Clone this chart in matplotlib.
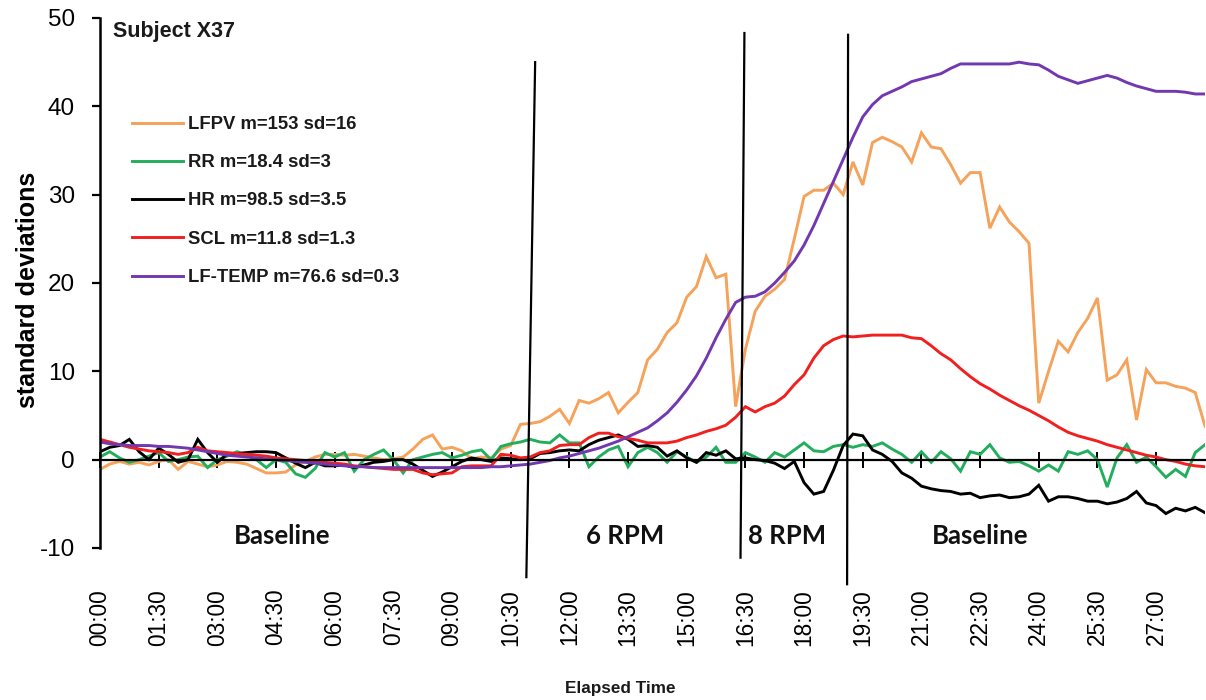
import numpy as np
import matplotlib
matplotlib.use("Agg")
import matplotlib.pyplot as plt

# ---------------- data ----------------
# elapsed time in 15 s steps, 00:00 .. 28:15
n_points = 114
times = [f"{(i*15)//60:02d}:{(i*15)%60:02d}" for i in range(n_points)]
label_every = 6

lfpv = [-1.1, -0.5, -0.2, -0.5, -0.3, -0.6, -0.2, 0.0, -1.1, -0.2,
        -0.5, -0.8, -0.6, -0.2, -0.3, -0.5, -1.0, -1.5, -1.5, -1.4,
        -0.6, -0.2, 0.3, 0.6, 0.6, 0.5, 0.6, 0.4, 0.2, 0.0,
        0.1, 0.3, 1.2, 2.3, 2.8, 1.2, 1.4, 1.0, 0.1, 0.3,
        0.2, 1.2, 1.6, 4.0, 4.1, 4.3, 4.9, 5.7, 4.1, 6.7,
        6.4, 6.9, 7.6, 5.3, 6.5, 7.6, 11.3, 12.5, 14.4, 15.5,
        18.4, 19.6, 23.0, 20.6, 21.0, 6.0, 12.5, 16.8, 18.5, 19.3,
        20.4, 25.0, 29.8, 30.5, 30.5, 31.3, 30.0, 33.7, 31.1, 35.9,
        36.5, 36.0, 35.4, 33.7, 37.0, 35.4, 35.2, 33.4, 31.3, 32.5,
        32.5, 26.2, 28.6, 26.9, 25.8, 24.5, 6.4, 10.0, 13.4, 12.2,
        14.4, 16.0, 18.3, 9.0, 9.6, 11.3, 4.5, 10.2, 8.7, 8.7,
        8.3, 8.1, 7.6, 3.8]

rr = [0.3, 0.9, 0.2, -0.3, 0.0, 0.4, 0.8, -0.2, 0.0, 0.3,
      0.4, -0.9, 0.0, 0.4, 0.9, 0.5, 0.0, -0.9, 0.0, -0.3,
      -1.6, -2.0, -1.0, 0.8, 0.3, 0.8, -1.3, 0.0, 0.6, 1.1,
      0.0, -1.5, 0.0, 0.3, 0.6, 0.8, 0.2, 0.5, 0.9, 1.1,
      0.0, 1.5, 1.8, 2.0, 2.3, 2.0, 1.9, 2.8, 1.9, 1.9,
      -0.8, 0.3, 1.1, 1.5, -0.8, 0.8, 1.4, 0.8, -0.3, 0.9,
      0.3, -0.3, 0.3, 1.4, -0.3, -0.3, 0.8, 0.3, -0.3, 0.8,
      0.3, 1.1, 1.9, 1.0, 0.9, 1.5, 1.7, 1.4, 1.7, 1.5,
      1.9, 1.2, 0.6, -0.3, 0.9, -0.3, 0.9, 0.1, -1.3, 0.9,
      0.6, 1.7, 0.2, -0.3, -0.2, -0.7, -1.3, -0.6, -1.3, 0.9,
      0.6, 1.0, 0.0, -3.1, 0.2, 1.7, -0.3, 0.3, -0.8, -2.0,
      -1.1, -1.9, 0.8, 1.7]

hr = [0.9, 1.4, 1.6, 2.3, 0.9, 0.0, 1.3, 0.6, -0.3, 0.0,
      2.3, 0.8, -0.3, 0.6, 0.7, 0.8, 0.9, 0.9, 0.8, 0.2,
      -0.4, -0.9, -0.3, -0.7, -0.7, -0.6, -0.9, -0.6, -0.3, -0.2,
      0.0, 0.0, -0.5, -1.2, -1.9, -1.4, -0.8, -0.2, 0.2, 0.0,
      -0.2, 0.2, 0.1, 0.0, 0.1, 0.7, 0.8, 1.0, 1.1, 1.0,
      1.7, 2.2, 2.5, 2.8, 2.3, 1.5, 1.6, 1.4, 0.4, 1.0,
      0.2, -0.3, 0.8, 0.5, 1.0, 0.1, 0.2, 0.0, -0.1, -0.4,
      -1.0, -0.2, -2.6, -3.9, -3.6, -1.2, 1.6, 2.9, 2.7, 1.1,
      0.6, -0.2, -1.5, -2.1, -3.0, -3.3, -3.5, -3.6, -3.9, -3.8,
      -4.3, -4.1, -4.0, -4.3, -4.2, -3.9, -2.9, -4.7, -4.2, -4.2,
      -4.4, -4.7, -4.7, -5.0, -4.8, -4.4, -3.6, -4.9, -5.2, -6.1,
      -5.5, -5.8, -5.4, -6.0]

scl = [2.3, 2.0, 1.7, 1.4, 1.2, 1.0, 0.9, 0.8, 0.6, 0.8,
       1.4, 1.0, 0.9, 0.8, 0.7, 0.6, 0.5, 0.4, 0.2, 0.1,
       0.0, -0.1, -0.2, -0.3, -0.4, -0.5, -0.7, -0.8, -0.9, -1.0,
       -1.1, -1.1, -1.1, -1.5, -1.7, -1.6, -1.5, -0.8, -0.7, -0.7,
       -0.7, 0.6, 0.5, 0.2, 0.3, 0.8, 1.0, 1.6, 1.7, 1.7,
       2.5, 3.0, 3.0, 2.6, 2.4, 2.2, 1.9, 1.9, 1.9, 2.1,
       2.5, 2.8, 3.2, 3.5, 3.9, 4.8, 6.0, 5.4, 6.0, 6.4,
       7.2, 8.5, 9.6, 11.5, 12.9, 13.6, 14.0, 13.9, 14.0, 14.1,
       14.1, 14.1, 14.1, 13.8, 13.7, 12.9, 12.0, 11.3, 10.3, 9.4,
       8.6, 8.0, 7.3, 6.7, 6.1, 5.6, 5.0, 4.4, 3.7, 3.1,
       2.7, 2.4, 2.1, 1.7, 1.4, 1.1, 0.8, 0.5, 0.3, 0.0,
       -0.2, -0.5, -0.7, -0.8]

lf_temp = [2.0, 1.8, 1.7, 1.6, 1.6, 1.6, 1.5, 1.5, 1.4, 1.3,
           1.1, 0.9, 0.7, 0.5, 0.4, 0.3, 0.2, 0.1, 0.0, -0.1,
           -0.2, -0.3, -0.4, -0.5, -0.6, -0.7, -0.8, -0.8, -0.9, -0.9,
           -0.9, -0.9, -0.9, -0.9, -0.9, -0.9, -0.9, -0.9, -0.9, -0.9,
           -0.8, -0.8, -0.7, -0.6, -0.5, -0.3, -0.1, 0.2, 0.4, 0.7,
           1.0, 1.3, 1.7, 2.1, 2.6, 3.1, 3.6, 4.4, 5.3, 6.5,
           7.9, 9.5, 11.5, 13.8, 15.9, 17.8, 18.4, 18.5, 19.0, 20.0,
           21.2, 22.5, 24.3, 26.5, 29.0, 31.5, 34.0, 36.5, 38.8, 40.2,
           41.2, 41.7, 42.2, 42.8, 43.1, 43.4, 43.7, 44.3, 44.8, 44.8,
           44.8, 44.8, 44.8, 44.8, 45.0, 44.8, 44.7, 44.1, 43.4, 43.0,
           42.6, 42.9, 43.2, 43.5, 43.2, 42.7, 42.3, 42.0, 41.7, 41.7,
           41.7, 41.6, 41.4, 41.4]

series_labels = ["LFPV m=153 sd=16", "RR m=18.4 sd=3", "HR m=98.5 sd=3.5",
                 "SCL m=11.8 sd=1.3", "LF-TEMP m=76.6 sd=0.3"]
series_values = [lfpv, rr, hr, scl, lf_temp]
series_colors = ["#F5A25B", "#22AE5C", "#000000", "#F21F1F", "#7238B0"]

# phase boundary markers (hand-drawn slanted lines): (x_top, y_top, x_bottom, y_bottom)
phase_lines = [(44.5, 45.0, 43.6, -13.3),
               (65.9, 48.3, 65.5, -11.1),
               (76.5, 48.1, 76.4, -14.1)]
phase_names = ["Baseline", "6 RPM", "8 RPM", "Baseline"]
phase_label_pos = [(18.6, -8.6), (53.7, -8.6), (70.3, -8.6), (90.0, -8.6)]

# ---------------- figure ----------------
plt.rcParams['font.family'] = ['Liberation Sans', 'DejaVu Sans']
plt.rcParams['axes.unicode_minus'] = False
fig = plt.figure(figsize=(12.06, 7.0), dpi=100)
ax = fig.add_axes([100/1206, 1 - 548/700, 1105/1206, 530/700])

x = np.arange(n_points)
for vals, lab, col in zip(series_values, series_labels, series_colors):
    ax.plot(x, vals, color=col, lw=2.1, label=lab, solid_joinstyle='miter')

ax.set_xlim(0, n_points - 1)
ax.set_ylim(-10, 50)
ax.set_yticks(range(-10, 51, 10))

for s in ['top', 'right']:
    ax.spines[s].set_visible(False)
ax.spines['left'].set_linewidth(1.8)
ax.spines['bottom'].set_position(('data', 0))
ax.spines['bottom'].set_linewidth(1.6)

ticks = list(range(0, n_points, label_every))
ax.set_xticks(ticks)
ax.set_xticklabels([times[t] for t in ticks], rotation=90, fontsize=16.3)
ax.tick_params(axis='x', direction='inout', length=12, width=1.4, pad=87)
ax.tick_params(axis='y', direction='out', length=6, width=1.6, labelsize=17.5, pad=12)

for (xt, yt, xb, yb) in phase_lines:
    ax.plot([xt, xb], [yt, yb], color='black', lw=1.6, clip_on=False)

for name, (px, py) in zip(phase_names, phase_label_pos):
    ax.text(px, py, name, ha='center', va='center', fontsize=18.5,
            fontweight='bold', family=['Lato', 'DejaVu Sans'], color='#111111')

leg = ax.legend(loc='upper left', bbox_to_anchor=(132/1206, 1 - 116/700),
                bbox_transform=fig.transFigure, frameon=False,
                prop={'weight': 'bold', 'size': 13.3},
                handlelength=2.75, handletextpad=0.3, labelspacing=1.15,
                borderpad=0, borderaxespad=0)
for t in leg.get_texts():
    t.set_color('#1a1a1a')

fig.text(113/1206, 1 - 31/700, "Subject X37", fontsize=15.5, fontweight='bold',
         ha='left', va='center', color='#1a1a1a')
fig.text(28/1206, 1 - 290/700, "standard deviations", fontsize=18, fontweight='bold',
         rotation=90, ha='center', va='center')
fig.text(620/1206, 1 - 688/700, "Elapsed Time", fontsize=12.3, fontweight='bold',
         ha='center', va='center', color='#1a1a1a')

fig.savefig("out.png", dpi=100)
